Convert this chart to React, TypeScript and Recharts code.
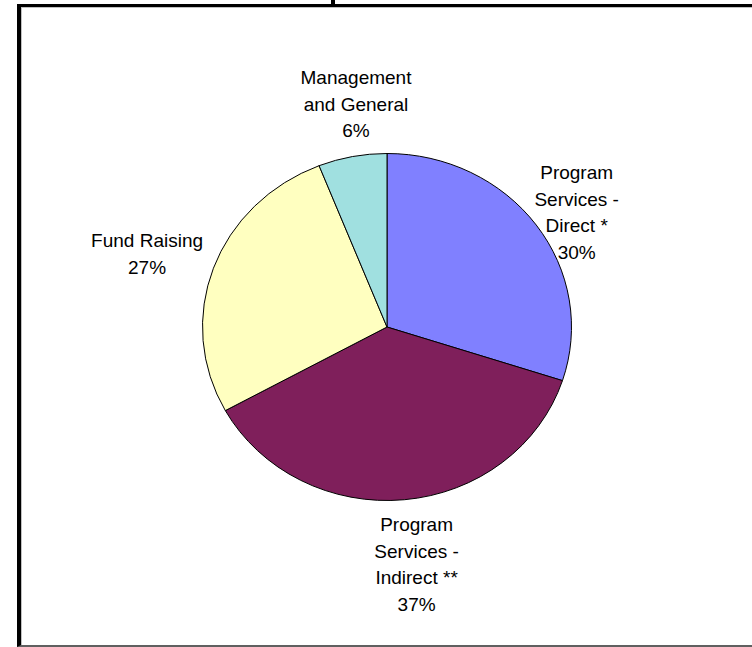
import { PieChart, Pie, Cell } from "recharts";

const categories = [
  "Program Services - Direct *",
  "Program Services - Indirect **",
  "Fund Raising",
  "Management and General",
];
const labelLines = [
  ["Program", "Services -", "Direct *"],
  ["Program", "Services -", "Indirect **"],
  ["Fund Raising"],
  ["Management", "and General"],
];
const values = [30, 37, 27, 6];
const colors = ["#8080FF", "#7F1F5B", "#FFFFC0", "#A0E0E0"];

// label placement tweaks (excel shoves them around a bit)
const nudgeX = [4, 8, -24, 12];
const nudgeY = [14, 20, 1, -8];

const RX = 184.5;
const RY = 173.5;
const LINE_H = 26.5;
const RAD = Math.PI / 180;

const data = categories.map((name, i) => ({ name, value: values[i] }));

// excel draws the pie slightly squashed, so draw the sector as an ellipse
function EllipseSector(props: any) {
  const { cx, cy, startAngle, endAngle, fill, outerRadius } = props;
  const rx = outerRadius;
  const ry = outerRadius * (RY / RX);
  const x1 = cx + rx * Math.cos(startAngle * RAD);
  const y1 = cy - ry * Math.sin(startAngle * RAD);
  const x2 = cx + rx * Math.cos(endAngle * RAD);
  const y2 = cy - ry * Math.sin(endAngle * RAD);
  const large = Math.abs(startAngle - endAngle) > 180 ? 1 : 0;
  const sweep = startAngle > endAngle ? 1 : 0;
  const d = `M${cx},${cy} L${x1},${y1} A${rx},${ry} 0 ${large} ${sweep} ${x2},${y2} Z`;
  return <path d={d} fill={fill} stroke="#000" strokeWidth={1} />;
}

function renderLabel(props: any) {
  const { cx, cy, midAngle, outerRadius, percent, index } = props;
  const k = 45;
  const ry = outerRadius * (RY / RX);
  const x = cx + (outerRadius + k) * Math.cos(midAngle * RAD) + nudgeX[index];
  const y = cy - (ry + k) * Math.sin(midAngle * RAD) + nudgeY[index];
  const lines = [...labelLines[index], `${Math.round(percent * 100)}%`];
  const top = y - ((lines.length - 1) * LINE_H) / 2;
  return (
    <text
      key={`lbl-${index}`}
      textAnchor="middle"
      fill="#000"
      style={{ fontFamily: "'Liberation Sans', Arial, sans-serif", fontSize: 19 }}
    >
      {lines.map((t, j) => (
        <tspan key={j} x={x} y={top + j * LINE_H} dominantBaseline="central">
          {t}
        </tspan>
      ))}
    </text>
  );
}

export default function App() {
  return (
    <div
      style={{
        position: "absolute",
        left: 0,
        top: 0,
        width: 752,
        height: 647,
        overflow: "hidden",
        background: "#fff",
      }}
    >
      <div
        style={{
          position: "absolute",
          left: 17,
          top: 4,
          width: 760,
          height: 638,
          borderLeft: "4px solid #000",
          borderTop: "3px solid #000",
          borderBottom: "2px solid #606060",
          boxShadow: "inset 1px 1px 0 #c0c0c0",
        }}
      />
      <div style={{ position: "absolute", left: 331, top: 0, width: 4, height: 5, background: "#000" }} />
      <div style={{ position: "absolute", left: 0, top: 0 }}>
        <PieChart width={752} height={647} margin={{ top: 0, right: 0, bottom: 0, left: 0 }}>
          <Pie
            data={data}
            dataKey="value"
            nameKey="name"
            cx={387}
            cy={327}
            outerRadius={RX}
            startAngle={90}
            endAngle={-270}
            stroke="#000"
            strokeWidth={1}
            shape={EllipseSector}
            label={renderLabel}
            labelLine={false}
            isAnimationActive={false}
          >
            {data.map((d, i) => (
              <Cell key={d.name} fill={colors[i]} />
            ))}
          </Pie>
        </PieChart>
      </div>
    </div>
  );
}
